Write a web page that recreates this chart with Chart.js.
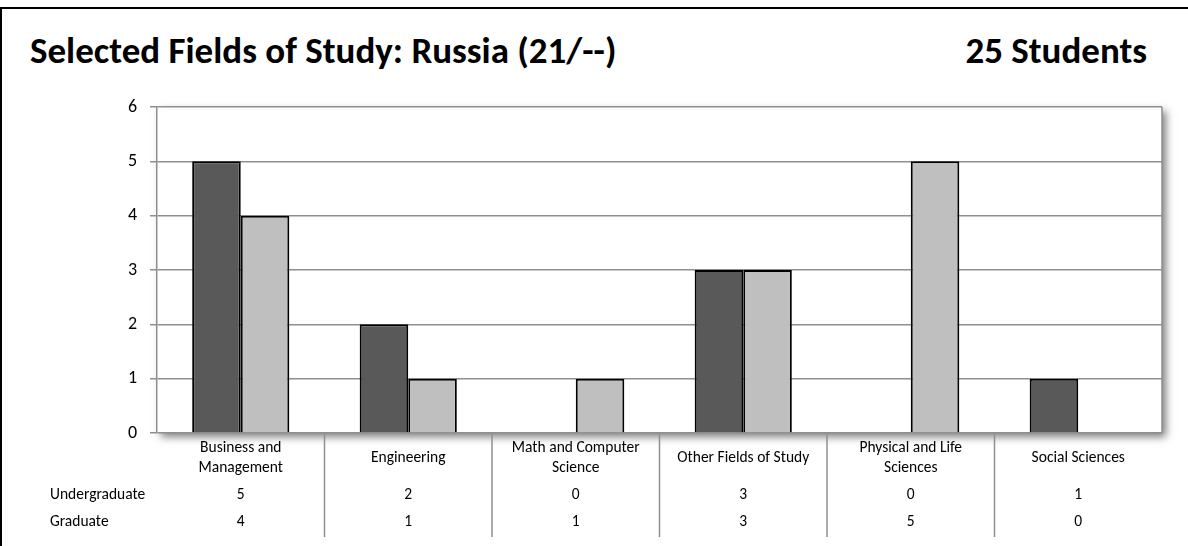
<!DOCTYPE html>
<html>
<head>
<meta charset="utf-8">
<script src="https://cdn.jsdelivr.net/npm/chart.js@4.4.1/dist/chart.umd.min.js"></script>
<style>
  html, body { margin: 0; padding: 0; background: #fff; }
  #wrap { position: relative; width: 1188px; height: 546px; overflow: hidden; }
  #frame { position: absolute; left: 0; top: 7px; width: 1300px; height: 700px; border-left: 2px solid #000; border-top: 2px solid #000; }
  .ttl { position: absolute; top: 32px; line-height: 37px; font-family: Carlito, Lato, "Open Sans", sans-serif; font-weight: bold; font-size: 37px; color: #000; white-space: nowrap; }
  #title { left: 30px; }
  #count { right: 41px; }
  canvas { position: absolute; left: 0; top: 0; }
</style>
</head>
<body>
<div id="wrap">
  <div id="frame"></div>
  <div id="title" class="ttl">Selected Fields of Study: Russia (21/--)</div>
  <div id="count" class="ttl">25 Students</div>
  <canvas id="myChart" width="1188" height="546"></canvas>
</div>
<script>
const categories = [
  ['Business and', 'Management'],
  ['Engineering'],
  ['Math and Computer', 'Science'],
  ['Other Fields of Study'],
  ['Physical and Life', 'Sciences'],
  ['Social Sciences']
]
const undergraduate = [5, 2, 0, 3, 0, 1]
const graduate = [4, 1, 1, 3, 5, 0]
const seriesNames = ['Undergraduate', 'Graduate']
const yTicks = [0, 1, 2, 3, 4, 5, 6]

const FONT = 'Carlito, Lato, "Open Sans", sans-serif'
const LINE = '#8f8f8f'

// white plot area with a soft drop shadow, plus the data table below it
const plotAndTable = {
  id: 'plotAndTable',
  beforeDraw(chart) {
    const { ctx, chartArea: a } = chart
    ctx.save()
    ctx.shadowColor = 'rgba(0,0,0,0.5)'
    ctx.shadowBlur = 8
    ctx.shadowOffsetX = 4
    ctx.shadowOffsetY = 4
    ctx.fillStyle = '#fff'
    ctx.fillRect(a.left, a.top, a.right - a.left, a.bottom - a.top)
    ctx.restore()
    ctx.save()
    ctx.strokeStyle = LINE
    ctx.lineWidth = 1.5
    ctx.beginPath()
    ctx.moveTo(a.right, a.top)
    ctx.lineTo(a.right, a.bottom)
    ctx.stroke()
    ctx.restore()
  },
  afterDraw(chart) {
    const { ctx, chartArea: a } = chart
    const x = chart.scales.x
    ctx.save()
    // column dividers
    ctx.strokeStyle = LINE
    ctx.lineWidth = 1.5
    for (let i = 1; i < categories.length; i++) {
      const px = (x.getPixelForValue(i - 1) + x.getPixelForValue(i)) / 2
      ctx.beginPath()
      ctx.moveTo(px, a.bottom)
      ctx.lineTo(px, a.bottom + 104)
      ctx.stroke()
    }
    ctx.fillStyle = '#000'
    ctx.font = '15.5px ' + FONT
    ctx.textAlign = 'center'
    ctx.textBaseline = 'alphabetic'
    categories.forEach((lines, i) => {
      const cx = x.getPixelForValue(i)
      const mid = a.bottom + 29
      lines.forEach((t, j) => {
        ctx.fillText(t, cx, mid + (j - (lines.length - 1) / 2) * 20)
      })
      ctx.fillText(String(undergraduate[i]), cx, a.bottom + 66)
      ctx.fillText(String(graduate[i]), cx, a.bottom + 93)
    })
    ctx.textAlign = 'left'
    ctx.fillText(seriesNames[0], 50, a.bottom + 66)
    ctx.fillText(seriesNames[1], 50, a.bottom + 93)
    ctx.restore()
  }
}

new Chart(document.getElementById('myChart'), {
  type: 'bar',
  data: {
    labels: categories,
    datasets: [
      { label: seriesNames[0], data: undergraduate, backgroundColor: '#595959', borderColor: '#000', borderWidth: 2 },
      { label: seriesNames[1], data: graduate, backgroundColor: '#bfbfbf', borderColor: '#000', borderWidth: 2 }
    ]
  },
  options: {
    responsive: false,
    animation: false,
    layout: { padding: { left: 0, top: 107, right: 26, bottom: 113 } },
    datasets: { bar: { categoryPercentage: 0.58, barPercentage: 1 } },
    plugins: { legend: { display: false }, tooltip: { enabled: false } },
    scales: {
      x: { display: false, offset: true },
      y: {
        min: 0,
        max: 6,
        afterFit(scale) { scale.width = 157 },
        afterBuildTicks(scale) { scale.ticks = yTicks.map(v => ({ value: v })) },
        border: { color: LINE, width: 1.5 },
        grid: { color: LINE, lineWidth: 1.5, tickLength: 7 },
        ticks: { color: '#000', padding: 13, font: { family: FONT, size: 18 } }
      }
    }
  },
  plugins: [plotAndTable]
})
</script>
</body>
</html>
